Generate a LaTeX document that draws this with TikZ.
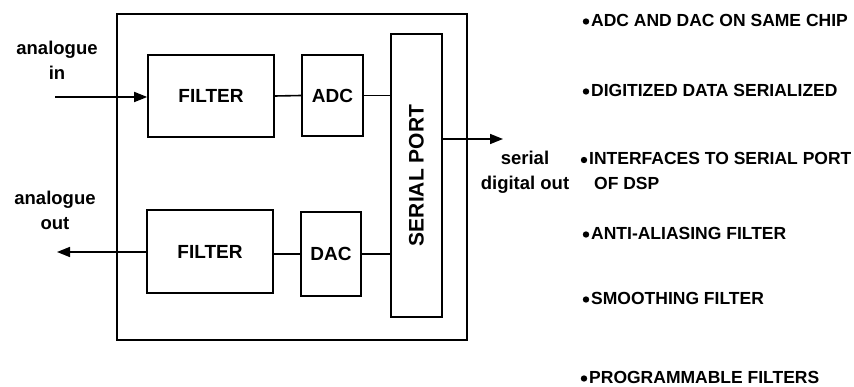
\documentclass[tikz,border=0pt]{standalone}
\usepackage{fontspec}
\setmainfont{Liberation Sans}
\usetikzlibrary{arrows.meta}
\begin{document}
\begin{tikzpicture}[x=1pt,y=-1pt,
  blk/.style={draw,line width=1.6pt,inner sep=0pt,font=\fontsize{19}{25}\selectfont\bfseries},
  wire/.style={line width=1.6pt},
  arr/.style={line width=1.6pt,-{Triangle[length=13pt,width=10pt]}},
  lbl/.style={align=center,inner sep=0pt,font=\fontsize{18.5}{25}\selectfont\bfseries},
  item/.style={anchor=west,align=left,inner sep=0pt,font=\fontsize{17.5}{25}\selectfont\bfseries}]
\useasboundingbox (0,0) rectangle (854,387);
\node[draw,line width=1.8pt,minimum width=350pt,minimum height=326pt] (chip) at (292,177) {};
\node[blk,minimum width=126pt,minimum height=82pt] (fin) at (211,96) {FILTER};
\node[blk,minimum width=61pt,minimum height=81pt] (adc) at (332.5,95.5) {ADC};
\node[blk,minimum width=51pt,minimum height=283pt] (sp) at (416.5,175.5) {};
\node[font=\fontsize{21}{25}\selectfont\bfseries,rotate=90] (spt) at (sp.center) {SERIAL PORT};
\node[blk,minimum width=126pt,minimum height=83pt] (fout) at (210,251.5) {FILTER};
\node[blk,minimum width=60pt,minimum height=84pt] (dac) at (331,254) {DAC};
\coordinate (ain) at (55,97);
\coordinate (aout) at (57,252);
\coordinate (sout) at (503,139);
\draw[arr] (ain) -- (ain -| fin.west);
\draw[arr] (fout.west |- aout) -- (aout);
\draw[arr] (sp.east |- sout) -- (sout);
\draw[wire] (fin.east) -- (adc.west);
\draw[wire] (adc.east) -- (adc.east -| sp.west);
\draw[wire] (fout.east |- dac.west) -- (dac.west);
\draw[wire] (dac.east) -- (dac.east -| sp.west);
\node[lbl] (lin) at (57,60) {analogue\\in};
\node[lbl] (lout) at (55,210) {analogue\\out};
\node[lbl] (lser) at (525,172) {serial\\digital out};
\node[item] (i1) at (591,20) {ADC AND DAC ON SAME CHIP};
\node[item] (i2) at (591,90) {DIGITIZED DATA SERIALIZED};
\node[item] (i3) at (589,171) {INTERFACES TO SERIAL PORT\\\kern5pt OF DSP};
\node[item] (i4) at (591,233) {ANTI-ALIASING FILTER};
\node[item] (i5) at (591,298) {SMOOTHING FILTER};
\node[item] (i6) at (589,377) {PROGRAMMABLE FILTERS};
\foreach \n in {i1,i2,i4,i5,i6}
  \fill ([xshift=-5pt,yshift=-1.5pt]\n.west) circle[radius=3.2pt];
\fill ([xshift=-5pt]i3.west |- 0,160) circle[radius=3.2pt];
\end{tikzpicture}
\end{document}
